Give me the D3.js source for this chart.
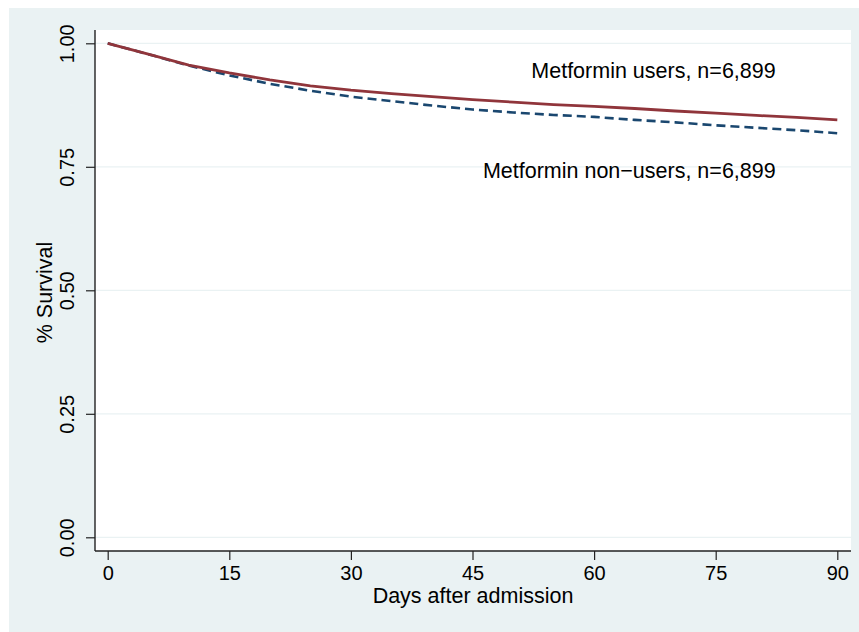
<!DOCTYPE html>
<html lang="en">
<head>
<meta charset="UTF-8">
<title>Survival</title>
<script src="https://d3js.org/d3.v7.min.js"></script>
<style>
  body { margin: 0; background: #fff; }
  text { font-family: "Liberation Sans", Arial, Helvetica, sans-serif; fill: #000; }
</style>
</head>
<body>
<script>
// days after admission at which the curves were read
const days = [0, 5, 10, 15, 20, 25, 30, 35, 40, 45, 50, 55, 60, 65, 70, 75, 80, 85, 90];
const users = [1.000, 0.978, 0.956, 0.940, 0.926, 0.914, 0.905, 0.898, 0.892, 0.886, 0.881, 0.876, 0.8725, 0.868, 0.863, 0.8585, 0.854, 0.850, 0.845];
const nonUsers = [1.000, 0.978, 0.955, 0.935, 0.918, 0.904, 0.892, 0.883, 0.874, 0.866, 0.860, 0.855, 0.851, 0.845, 0.840, 0.834, 0.829, 0.824, 0.818];

const xTicks = [0, 15, 30, 45, 60, 75, 90];
const yTicks = [0, 0.25, 0.5, 0.75, 1];
const labels = [
  { text: "Metformin users, n=6,899", day: 82.4, value: 0.93 },
  { text: "Metformin non\u2212users, n=6,899", day: 82.4, value: 0.727 }
];

const width = 859, height = 632;
const plot = { left: 95, right: 851, top: 30, bottom: 551 };

const svg = d3.select('body').append('svg')
  .attr('width', width)
  .attr('height', height);

// outer background
svg.append('rect')
  .attr('x', 9).attr('y', 8)
  .attr('width', width - 9).attr('height', height - 8)
  .attr('fill', '#EAF2F3');

svg.append('rect')
  .attr('x', plot.left).attr('y', plot.top)
  .attr('width', plot.right - plot.left).attr('height', plot.bottom - plot.top)
  .attr('fill', '#fff');

const x = d3.scaleLinear().domain([0, 90]).range([107.7, 837.3]);
const y = d3.scaleLinear().domain([0, 1]).range([537.3, 43.3]);

// grid lines
svg.append('g').selectAll('line').data(yTicks).enter().append('line')
  .attr('x1', plot.left).attr('x2', plot.right)
  .attr('y1', d => y(d)).attr('y2', d => y(d))
  .attr('stroke', '#EAF2F3').attr('stroke-width', 1.2);

// y axis
const yAxis = svg.append('g')
  .attr('transform', `translate(${plot.left},0)`)
  .call(d3.axisLeft(y).tickValues(yTicks).tickFormat(d3.format('.2f')).tickSizeInner(9).tickSizeOuter(0).tickPadding(0));
yAxis.select('.domain').attr('d', `M0,${plot.top}V${plot.bottom}`).attr('stroke', '#222').attr('stroke-width', 1.4);
yAxis.selectAll('.tick line').attr('stroke', '#222').attr('stroke-width', 1.2);
yAxis.selectAll('.tick text')
  .attr('font-size', 20)
  .attr('text-anchor', 'middle')
  .attr('x', null).attr('dy', null)
  .attr('transform', 'translate(-21.5,0) rotate(-90)');

// x axis
const xAxis = svg.append('g')
  .attr('transform', `translate(0,${plot.bottom})`)
  .call(d3.axisBottom(x).tickValues(xTicks).tickSizeInner(9).tickSizeOuter(0).tickPadding(0));
xAxis.select('.domain').attr('d', `M${plot.left},0H${plot.right}`).attr('stroke', '#222').attr('stroke-width', 1.4);
xAxis.selectAll('.tick line').attr('stroke', '#222').attr('stroke-width', 1.2);
xAxis.selectAll('.tick text')
  .attr('font-size', 20)
  .attr('y', 29).attr('dy', null);

// axis titles
svg.append('text')
  .attr('x', (plot.left + plot.right) / 2).attr('y', 603)
  .attr('text-anchor', 'middle').attr('font-size', 21.5)
  .text('Days after admission');

svg.append('text')
  .attr('transform', `translate(52,${(plot.top + plot.bottom) / 2 + 2}) rotate(-90)`)
  .attr('text-anchor', 'middle').attr('font-size', 21.5)
  .text('% Survival');

// survival curves
const line = d3.line()
  .x(d => x(d[0]))
  .y(d => y(d[1]));

svg.append('path')
  .datum(days.map((d, i) => [d, nonUsers[i]]))
  .attr('d', line)
  .attr('fill', 'none')
  .attr('stroke', '#1A476F')
  .attr('stroke-width', 2.6)
  .attr('stroke-dasharray', '9,5');

svg.append('path')
  .datum(days.map((d, i) => [d, users[i]]))
  .attr('d', line)
  .attr('fill', 'none')
  .attr('stroke', '#90353B')
  .attr('stroke-width', 2.8);

// curve labels
svg.append('g').selectAll('text').data(labels).enter().append('text')
  .attr('x', d => x(d.day))
  .attr('y', d => y(d.value))
  .attr('text-anchor', 'end')
  .attr('font-size', 21.5)
  .text(d => d.text);
</script>
</body>
</html>
